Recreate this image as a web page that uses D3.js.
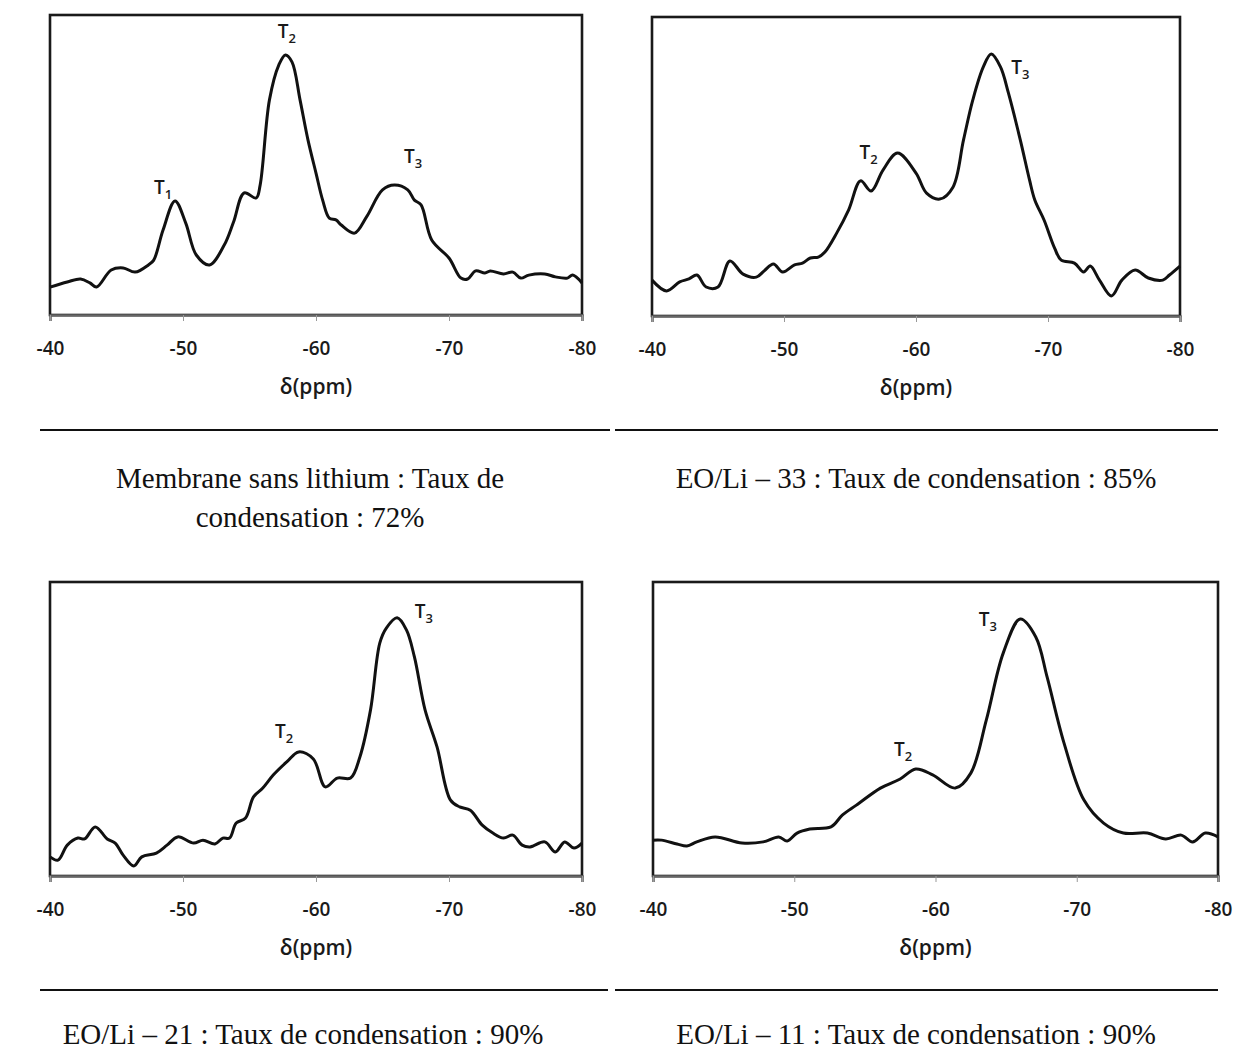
<!DOCTYPE html>
<html><head><meta charset="utf-8">
<script src="https://cdn.jsdelivr.net/npm/d3@7"></script>
<style>body{margin:0;background:#fff}svg{display:block}</style>
</head><body>
<script>
// ---- data ----
const xTicks = [-40, -50, -60, -70, -80];
const xLabel = "δ(ppm)";
const captions = [
  ["Membrane sans lithium : Taux de", "condensation : 72%"],
  ["EO/Li – 33 : Taux de condensation : 85%"],
  ["EO/Li – 21 : Taux de condensation : 90%"],
  ["EO/Li – 11 : Taux de condensation : 90%"]
];
// spectrum 1: membrane sans lithium  [ppm, intensity]
const ppm1 = [-40,-41.3,-42.3,-43.0,-43.5,-44.6,-45.5,-46.4,-47.4,-47.8,-48.5,-49.4,-50.2,-51.0,-52.0,-53.1,-53.8,-54.6,-55.5,-55.8,-56.5,-57.2,-57.7,-58.2,-58.8,-59.4,-60.0,-60.5,-61.0,-61.5,-61.9,-62.9,-63.8,-65.0,-65.9,-66.9,-67.4,-67.9,-68.7,-70.0,-70.9,-71.4,-72.0,-72.7,-73.1,-74.1,-74.8,-75.4,-76.0,-77.2,-78.0,-78.9,-79.3,-80];
const int1 = [9.3,11.0,12.0,10.7,9.3,15.0,15.7,14.3,16.7,18.3,28.3,38.0,30.7,20.0,16.7,23.3,31.0,40.7,39.0,43.3,71.7,83.3,86.7,84.3,71.7,58.3,47.3,38.3,32.3,31.7,30.0,27.3,32.7,41.7,43.3,41.7,38.3,36.7,25.0,19.0,12.3,12.0,14.7,14.0,14.7,13.7,14.3,12.3,13.3,13.7,12.7,12.3,13.3,10.7];
// spectrum 2: EO/Li 33
const ppm2 = [-40,-41.1,-42.1,-42.8,-43.4,-44.1,-45.0,-45.9,-46.9,-47.9,-48.5,-49.2,-49.9,-50.8,-51.4,-52.0,-52.6,-53.1,-54.0,-54.9,-55.8,-56.6,-57.5,-58.6,-60.0,-60.8,-61.8,-62.8,-63.6,-64.3,-65.1,-65.7,-66.4,-67.0,-67.9,-68.6,-69.0,-69.7,-70.5,-71.0,-72.0,-72.7,-73.2,-73.9,-74.8,-75.6,-76.6,-77.6,-78.7,-79.2,-80];
const int2 = [12.0,8.4,11.4,12.4,13.7,9.7,9.7,18.4,14.0,13.0,15.1,17.4,14.7,17.1,17.7,19.4,19.7,21.4,27.8,35.5,45.2,41.8,48.8,54.5,47.8,41.1,39.1,43.1,58.9,72.2,83.3,87.6,83.3,74.6,58.9,45.5,38.8,32.1,22.7,18.7,17.7,14.7,16.7,12.0,6.7,12.0,15.4,12.7,12.0,13.7,16.7];
// spectrum 3: EO/Li 21
const ppm3 = [-40,-40.6,-41.3,-42.1,-42.6,-43.4,-44.3,-44.9,-45.5,-46.3,-46.9,-48.0,-48.8,-49.6,-50.8,-51.5,-52.4,-53.0,-53.5,-54.0,-54.7,-55.3,-56.0,-56.8,-57.8,-58.7,-59.8,-60.7,-61.6,-62.6,-63.3,-64.1,-64.8,-65.3,-66.1,-66.8,-67.4,-68.2,-69.1,-70.1,-70.8,-71.6,-72.5,-73.3,-74.1,-74.8,-75.5,-76.1,-77.2,-78.0,-78.7,-79.4,-80];
const int3 = [6.5,5.4,10.5,12.9,12.6,16.7,12.6,11.2,7.1,3.4,6.5,7.8,10.5,13.3,11.2,12.2,10.9,12.9,12.9,18.0,19.7,26.9,29.9,34.4,38.8,42.2,39.8,30.3,33.3,33.3,40.5,56.5,79.3,84.4,87.8,83.7,74.5,56.5,43.9,25.9,23.5,22.4,17.3,14.6,12.9,13.9,10.5,9.9,11.6,8.2,11.6,9.5,11.2];
// spectrum 4: EO/Li 11
const ppm4 = [-40,-40.6,-41.7,-42.4,-43.1,-44.4,-46.3,-47.8,-48.9,-49.5,-50.2,-51.1,-52.6,-53.4,-54.4,-56.1,-57.5,-58.6,-59.8,-61.4,-62.5,-63.6,-64.8,-66.0,-67.1,-67.9,-69.1,-70.5,-71.9,-73.3,-75.0,-76.3,-77.4,-78.2,-79.1,-80];
const int4 = [12.2,12.2,10.9,10.2,11.6,13.3,11.2,11.6,13.3,11.9,14.6,16.0,16.7,20.7,24.1,29.9,33.0,36.4,34.4,29.9,35.0,53.1,75.9,87.4,81.3,67.7,45.2,25.9,18.0,14.6,14.6,12.6,13.9,11.6,14.6,13.3];
// peak labels: [main, subscript, ppm, intensity]
const peaks1 = [["T","1",-48.5,42.3],["T","2",-57.8,94.3],["T","3",-67.3,52.7]];
const peaks2 = [["T","2",-56.4,54.5],["T","3",-67.9,83.0]];
const peaks3 = [["T","2",-57.6,49.0],["T","3",-68.1,89.8]];
const peaks4 = [["T","2",-57.7,42.9],["T","3",-63.7,87.1]];

// ---- layout ----
const W = 1239, H = 1052;
const panels = [
  {ppm: ppm1, val: int1, peaks: peaks1, cap: captions[0], L: 50, R: 582, T: 15, B: 315, sepL: 40, sepR: 610, sepY: 430, capX: 310, capY: 488},
  {ppm: ppm2, val: int2, peaks: peaks2, cap: captions[1], L: 652, R: 1180, T: 17, B: 316, sepL: 615, sepR: 1218, sepY: 430, capX: 916, capY: 488},
  {ppm: ppm3, val: int3, peaks: peaks3, cap: captions[2], L: 50, R: 582, T: 582, B: 876, sepL: 40, sepR: 608, sepY: 990, capX: 303, capY: 1044},
  {ppm: ppm4, val: int4, peaks: peaks4, cap: captions[3], L: 653, R: 1218, T: 582, B: 876, sepL: 615, sepR: 1218, sepY: 990, capX: 916, capY: 1044}
];
const sansFont = "'Open Sans', Lato, sans-serif";

const svg = d3.select("body").append("svg").attr("width", W).attr("height", H);

panels.forEach(p => {
  const x = d3.scaleLinear().domain([-40, -80]).range([p.L, p.R]);
  const y = d3.scaleLinear().domain([0, 100]).range([p.B, p.T]);
  const g = svg.append("g");

  // frame
  g.append("rect").attr("x", p.L).attr("y", p.T).attr("width", p.R - p.L).attr("height", p.B - p.T)
    .attr("fill", "none").attr("stroke", "#1a1a1a").attr("stroke-width", 2.6);

  // x axis
  const ax = g.append("g").attr("transform", `translate(0,${p.B})`)
    .call(d3.axisBottom(x).tickValues(xTicks).tickSize(6).tickPadding(21).tickFormat(d => String(d)));
  ax.select(".domain").attr("stroke", "#666").attr("stroke-width", 2.6);
  ax.selectAll(".tick line").attr("stroke", "#999").attr("stroke-width", 1);
  ax.selectAll(".tick text").attr("font-family", sansFont).attr("font-weight", 600)
    .attr("font-size", 19).attr("fill", "#1a1a1a");

  g.append("text").attr("x", (p.L + p.R) / 2).attr("y", p.B + 79)
    .attr("text-anchor", "middle").attr("font-family", sansFont).attr("font-weight", 600)
    .attr("font-size", 21).attr("fill", "#1a1a1a").text(xLabel);

  // spectrum
  const pts = p.ppm.map((d, i) => [d, p.val[i]]);
  g.append("path").datum(pts)
    .attr("d", d3.line().x(d => x(d[0])).y(d => y(d[1])).curve(d3.curveCatmullRom.alpha(0.5)))
    .attr("fill", "none").attr("stroke", "#111").attr("stroke-width", 3).attr("stroke-linejoin", "round");

  // peak labels
  p.peaks.forEach(pk => {
    const t = g.append("text").attr("x", x(pk[2])).attr("y", y(pk[3]) + 6)
      .attr("text-anchor", "middle").attr("font-family", sansFont).attr("font-weight", 600)
      .attr("font-size", 19).attr("fill", "#1a1a1a");
    t.append("tspan").text(pk[0]);
    t.append("tspan").attr("font-size", 13).attr("dy", 5).text(pk[1]);
  });

  // separator line
  g.append("line").attr("x1", p.sepL).attr("x2", p.sepR).attr("y1", p.sepY).attr("y2", p.sepY)
    .attr("stroke", "#111").attr("stroke-width", 2);

  // caption
  p.cap.forEach((c, i) => {
    g.append("text").attr("x", p.capX).attr("y", p.capY + i * 39).attr("text-anchor", "middle")
      .attr("font-family", "'Liberation Serif', 'Times New Roman', serif").attr("font-size", 29)
      .attr("fill", "#111").text(c);
  });
});
</script>
</body></html>
